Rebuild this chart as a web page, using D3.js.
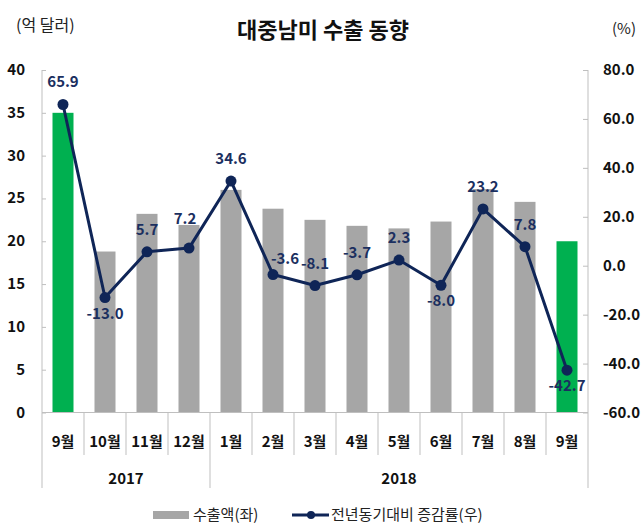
<!DOCTYPE html>
<html>
<head>
<meta charset="utf-8">
<script src="https://cdn.jsdelivr.net/npm/d3@7"></script>
<style>
  html, body { margin: 0; padding: 0; background: #fff; }
  svg { display: block; }
  text { font-family: "Noto Sans CJK KR", "Noto Sans", sans-serif; }
</style>
</head>
<body>
<script>
// ---- data ----
const months = ["9월", "10월", "11월", "12월", "1월", "2월", "3월", "4월", "5월", "6월", "7월", "8월", "9월"];
const years = ["2017", "2018"];
const yearSpans = [4, 9];
const exportValues = [35.0, 18.8, 23.2, 21.9, 26.0, 23.8, 22.5, 21.8, 21.5, 22.3, 26.1, 24.6, 20.0];
const highlighted = [true, false, false, false, false, false, false, false, false, false, false, false, true];
const growthRates = [65.9, -13.0, 5.7, 7.2, 34.6, -3.6, -8.1, -3.7, 2.3, -8.0, 23.2, 7.8, -42.7];
const leftTicks = [0, 5, 10, 15, 20, 25, 30, 35, 40];
const rightTicks = [-60, -40, -20, 0, 20, 40, 60, 80];
const title = "대중남미 수출 동향";
const leftUnit = "(억 달러)";
const rightUnit = "(%)";
const legendBar = "수출액(좌)";
const legendLine = "전년동기대비 증감률(우)";
// label placement per point (presentation only)
const labelPlace = ["above", "below", "above", "high", "above", "right", "above", "above", "above", "below", "above", "above", "below"];

// ---- layout ----
const W = 641, H = 531;
const L = 42, R = 588, T = 70, B = 412.5;
const monthTickBottom = 455, groupBottom = 488;
const navy = "#0f2557", labelNavy = "#1b2f5f", gray = "#a6a6a6", green = "#00b050", axisGray = "#bfbfbf";
const fmt1 = d => d.toFixed(1);

const svg = d3.select("body").append("svg").attr("width", W).attr("height", H);

const x = d3.scaleBand().domain(d3.range(months.length)).range([L, R]).paddingInner(0.5).paddingOuter(0.25);
const step = (R - L) / months.length;
const yL = d3.scaleLinear().domain([0, 40]).range([B, T]);
const yR = d3.scaleLinear().domain([-60, 80]).range([B, T]);

// titles
svg.append("text").attr("x", 323).attr("y", 38).attr("text-anchor", "middle")
  .attr("font-size", 22).attr("font-weight", "bold").attr("fill", "#111").text(title);
svg.append("text").attr("x", 16).attr("y", 31).attr("font-size", 16).attr("fill", "#222").text(leftUnit);
svg.append("text").attr("x", 636).attr("y", 34).attr("text-anchor", "end").attr("font-size", 15).attr("fill", "#222").text(rightUnit);

// bars
svg.append("g").selectAll("rect").data(exportValues).join("rect")
  .attr("x", (d, i) => x(i)).attr("width", x.bandwidth())
  .attr("y", d => yL(d)).attr("height", d => yL(0) - yL(d))
  .attr("fill", (d, i) => highlighted[i] ? green : gray);

// left axis
const gl = svg.append("g").attr("transform", `translate(${L},0)`)
  .call(d3.axisRight(yL).tickValues(leftTicks).tickSize(4).tickFormat(""));
gl.select(".domain").remove();
gl.selectAll(".tick line").attr("stroke", axisGray);
svg.append("g").selectAll("text").data(leftTicks).join("text")
  .attr("x", 25).attr("y", d => yL(d) + 5).attr("text-anchor", "end")
  .attr("font-size", 15).attr("font-weight", "bold").attr("fill", "#111").text(d => d);

// right axis
const gr = svg.append("g").attr("transform", `translate(${R},0)`)
  .call(d3.axisLeft(yR).tickValues(rightTicks).tickSize(5).tickFormat(""));
gr.select(".domain").remove();
gr.selectAll(".tick line").attr("stroke", axisGray);
svg.append("g").selectAll("text").data(rightTicks).join("text")
  .attr("x", 603).attr("y", d => yR(d) + 5).attr("text-anchor", "start")
  .attr("font-size", 15).attr("font-weight", "bold").attr("fill", "#111")
  .attr("textLength", d => d < 0 ? 37 : null).attr("lengthAdjust", "spacingAndGlyphs")
  .text(d => fmt1(d));

// axis lines
svg.append("line").attr("x1", L).attr("x2", L).attr("y1", T).attr("y2", groupBottom).attr("stroke", axisGray);
svg.append("line").attr("x1", R).attr("x2", R).attr("y1", T).attr("y2", groupBottom).attr("stroke", axisGray);
svg.append("line").attr("x1", L).attr("x2", R).attr("y1", B).attr("y2", B).attr("stroke", axisGray);

// category boundary lines
const bounds = d3.range(1, months.length);
let cum = 0;
const groupBounds = yearSpans.slice(0, -1).map(s => (cum += s));
svg.append("g").selectAll("line").data(bounds).join("line")
  .attr("x1", i => L + i * step).attr("x2", i => L + i * step)
  .attr("y1", B).attr("y2", i => groupBounds.includes(i) ? groupBottom : monthTickBottom)
  .attr("stroke", axisGray);

// month labels
svg.append("g").selectAll("text").data(months).join("text")
  .attr("x", (d, i) => x(i) + x.bandwidth() / 2).attr("y", 447)
  .attr("text-anchor", "middle").attr("font-size", 15).attr("font-weight", "bold").attr("fill", "#111")
  .text(d => d);

// year labels
let start = 0;
const yearPos = yearSpans.map(s => { const c = L + (start + s / 2) * step; start += s; return c; });
svg.append("g").selectAll("text").data(years).join("text")
  .attr("x", (d, i) => yearPos[i]).attr("y", 484)
  .attr("text-anchor", "middle").attr("font-size", 15).attr("font-weight", "bold").attr("fill", "#111")
  .text(d => d);

// line
const cx = i => x(i) + x.bandwidth() / 2;
svg.append("path").datum(growthRates)
  .attr("d", d3.line().x((d, i) => cx(i)).y(d => yR(d)))
  .attr("fill", "none").attr("stroke", navy).attr("stroke-width", 3).attr("stroke-linejoin", "round");
svg.append("g").selectAll("circle").data(growthRates).join("circle")
  .attr("cx", (d, i) => cx(i)).attr("cy", d => yR(d)).attr("r", 5.5).attr("fill", navy);

// point labels
const off = { above: [0, -22], below: [0, 16], high: [-4, -29], right: [12, -16] };
svg.append("g").selectAll("text").data(growthRates).join("text")
  .attr("x", (d, i) => cx(i) + off[labelPlace[i]][0])
  .attr("y", (d, i) => yR(d) + off[labelPlace[i]][1] + 5)
  .attr("text-anchor", "middle").attr("font-size", 15).attr("font-weight", "bold").attr("fill", labelNavy)
  .text(d => fmt1(d));

// legend
const ly = 515;
svg.append("rect").attr("x", 153).attr("y", ly - 4).attr("width", 36).attr("height", 8).attr("fill", gray);
svg.append("text").attr("x", 193).attr("y", ly + 5).attr("font-size", 15).attr("fill", "#222").text(legendBar);
svg.append("line").attr("x1", 292).attr("x2", 329).attr("y1", ly).attr("y2", ly).attr("stroke", navy).attr("stroke-width", 3);
svg.append("circle").attr("cx", 311).attr("cy", ly).attr("r", 4).attr("fill", navy);
svg.append("text").attr("x", 331).attr("y", ly + 5).attr("font-size", 15).attr("fill", "#222").text(legendLine);
</script>
</body>
</html>
